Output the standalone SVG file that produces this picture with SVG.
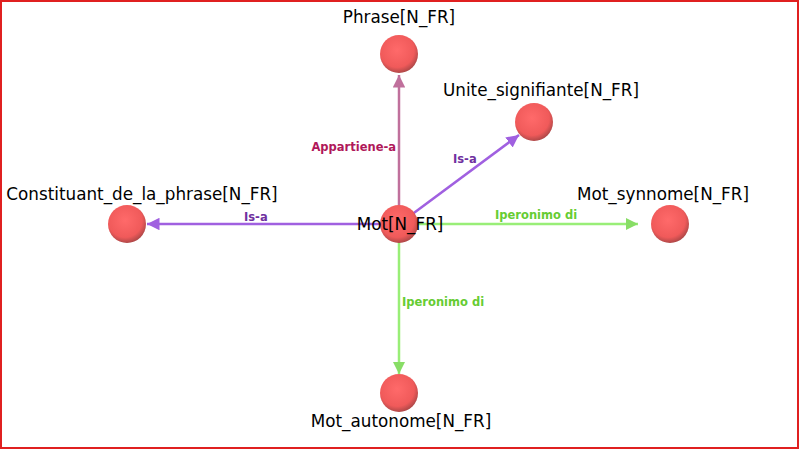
<svg xmlns="http://www.w3.org/2000/svg" width="800" height="450" viewBox="0 0 800 450">
<style>
.nl{font-family:"DejaVu Sans",Verdana,sans-serif;font-size:16.8px;fill:#000;text-anchor:middle}
.el{font-family:"DejaVu Sans",Verdana,sans-serif;font-size:11.5px;font-weight:bold}
.e{fill:none;stroke-width:2.5}
</style>
<defs>
<radialGradient id="g" cx="45%" cy="40%" r="60%">
<stop offset="0" stop-color="#ff6a6a"/>
<stop offset="0.75" stop-color="#f05a5a"/>
<stop offset="1" stop-color="#b04848"/>
</radialGradient>
<marker id="am" viewBox="0 0 10 10" refX="10" refY="5" markerWidth="5" markerHeight="5" orient="auto" markerUnits="strokeWidth"><path d="M0,0L10,5L0,10z" fill="#c0709c"/></marker>
<marker id="ap" viewBox="0 0 10 10" refX="10" refY="5" markerWidth="5" markerHeight="5" orient="auto" markerUnits="strokeWidth"><path d="M0,0L10,5L0,10z" fill="#a060e0"/></marker>
<marker id="ag" viewBox="0 0 10 10" refX="10" refY="5" markerWidth="5" markerHeight="5" orient="auto" markerUnits="strokeWidth"><path d="M0,0L10,5L0,10z" fill="#88dd66"/></marker>
</defs>
<rect x="1" y="1" width="797" height="447" fill="#fff" stroke="#e02020" stroke-width="2"/>
<g id="edges">
<line class="e" x1="399" y1="224" x2="399" y2="75" stroke="#c0709c" marker-end="url(#am)"/>
<line class="e" x1="399" y1="224" x2="519" y2="135" stroke="#a060e0" marker-end="url(#ap)"/>
<line class="e" x1="399" y1="224" x2="147" y2="224" stroke="#a060e0" marker-end="url(#ap)"/>
<line class="e" x1="399" y1="224" x2="638" y2="224" stroke="#99ee77" marker-end="url(#ag)"/>
<line class="e" x1="399" y1="224" x2="399" y2="374" stroke="#99ee77" marker-end="url(#ag)"/>
<text class="el" x="396" y="151" fill="#b0185a" text-anchor="end">Appartiene-a</text>
<text class="el" x="453" y="163" fill="#7030a0">Is-a</text>
<text class="el" x="244" y="221" fill="#7030a0">Is-a</text>
<text class="el" x="495" y="219" fill="#66cc33">Iperonimo di</text>
<text class="el" x="402" y="306" fill="#66cc33">Iperonimo di</text>
</g>
<g id="n_phrase"><circle cx="399" cy="54" r="19" fill="url(#g)"/><text class="nl" x="399" y="23">Phrase[N_FR]</text></g>
<g id="n_unite"><circle cx="534" cy="122" r="19" fill="url(#g)"/><text class="nl" x="541" y="96">Unite_signifiante[N_FR]</text></g>
<g id="n_const"><circle cx="127" cy="224" r="19" fill="url(#g)"/><text class="nl" x="142" y="200">Constituant_de_la_phrase[N_FR]</text></g>
<g id="n_syn"><circle cx="670" cy="224" r="19" fill="url(#g)"/><text class="nl" x="663" y="200">Mot_synnome[N_FR]</text></g>
<g id="n_auto"><circle cx="399" cy="393" r="19" fill="url(#g)"/><text class="nl" x="401" y="427">Mot_autonome[N_FR]</text></g>
<g id="n_mot"><circle cx="399" cy="224" r="19" fill="url(#g)"/><text class="nl" x="400" y="230">Mot[N_FR]</text></g>
</svg>
